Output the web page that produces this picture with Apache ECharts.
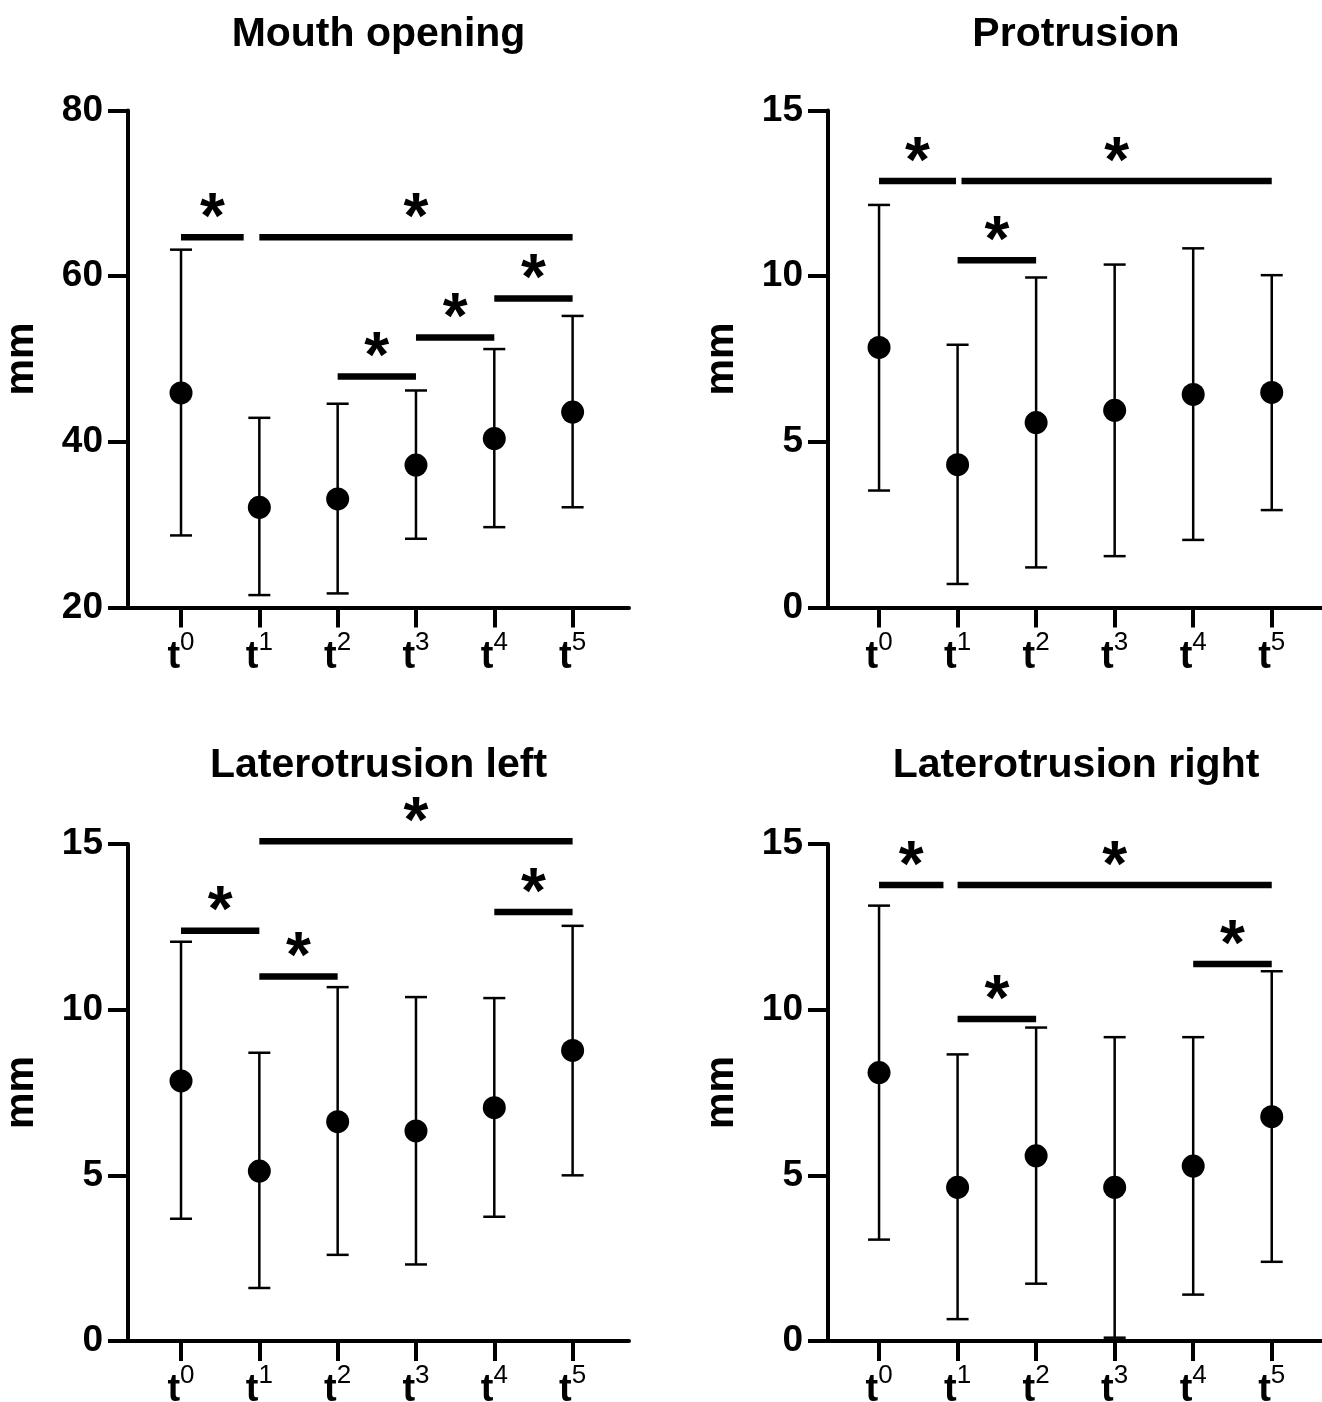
<!DOCTYPE html>
<html>
<head>
<meta charset="utf-8">
<script src="https://cdn.jsdelivr.net/npm/echarts@6/dist/echarts.min.js"></script>
<style>
html,body{margin:0;padding:0;background:#fff;}
#c{width:1322px;height:1402px;}
</style>
</head>
<body>
<div id="c"></div>
<script>
// ---------- DATA ----------
const timeSup = ['0', '1', '2', '3', '4', '5'];
const panelTitles = ['Mouth opening', 'Protrusion', 'Laterotrusion left', 'Laterotrusion right'];
const yUnit = 'mm';

// Mouth opening
const mouthMean  = [45.9, 32.1, 33.1, 37.2, 40.4, 43.6];
const mouthUpper = [63.2, 42.9, 44.6, 46.2, 51.2, 55.2];
const mouthLower = [28.7, 21.5, 21.7, 28.3, 29.7, 32.1];
const mouthSig   = [[0, 0.8, 64.7], [1, 5, 64.7], [2, 3, 47.9], [3, 4, 52.6], [4, 5, 57.3]];
const mouthTicks = [20, 80, 20]; // min, max, interval

// Protrusion
const protMean  = [7.85, 4.31, 5.58, 5.95, 6.43, 6.49];
const protUpper = [12.15, 7.93, 9.96, 10.35, 10.84, 10.03];
const protLower = [3.53, 0.71, 1.21, 1.55, 2.04, 2.94];
const protSig   = [[0, 0.98, 12.87], [1.05, 5, 12.87], [1, 2, 10.48]];
const protTicks = [0, 15, 5];

// Laterotrusion left
const llMean  = [7.85, 5.13, 6.62, 6.34, 7.04, 8.77];
const llUpper = [12.05, 8.7, 10.68, 10.38, 10.35, 12.53];
const llLower = [3.69, 1.6, 2.6, 2.31, 3.75, 5.0];
const llSig   = [[0, 1, 12.38], [1, 2, 11.0], [1, 5, 15.08], [4, 5, 12.95]];
const llTicks = [0, 15, 5];

// Laterotrusion right
const lrMean  = [8.1, 4.64, 5.59, 4.64, 5.28, 6.77];
const lrUpper = [13.14, 8.65, 9.46, 9.17, 9.17, 11.16];
const lrLower = [3.06, 0.66, 1.73, 0.1, 1.4, 2.39];
const lrSig   = [[0, 0.82, 13.76], [1, 5, 13.76], [1, 2, 9.72], [4, 5, 11.38]];
const lrTicks = [0, 15, 5];

// ---------- CHART ----------
const FONT = '"Liberation Sans", Arial, Helvetica, sans-serif';
const panels = [
  {mean: mouthMean, up: mouthUpper, lo: mouthLower, sig: mouthSig, ticks: mouthTicks,
   grid: {left: 128, top: 110.5, width: 501, height: 497}, xr: [-0.677, 5.72], cx: 378.5, ty: 14},
  {mean: protMean, up: protUpper, lo: protLower, sig: protSig, ticks: protTicks,
   grid: {left: 828, top: 110.5, width: 494, height: 497}, xr: [-0.65, 5.64], cx: 1076, ty: 14},
  {mean: llMean, up: llUpper, lo: llLower, sig: llSig, ticks: llTicks,
   grid: {left: 128, top: 844, width: 501, height: 497}, xr: [-0.677, 5.72], cx: 378.5, ty: 745},
  {mean: lrMean, up: lrUpper, lo: lrLower, sig: lrSig, ticks: lrTicks,
   grid: {left: 828, top: 844, width: 494, height: 497}, xr: [-0.65, 5.64], cx: 1076, ty: 745}
];
const idxs = [0, 1, 2, 3, 4, 5];

const option = {
  backgroundColor: '#fff',
  animation: false,
  title: panels.map((p, i) => ({
    text: panelTitles[i], left: p.cx, top: p.ty, textAlign: 'center', padding: 0,
    textStyle: {fontFamily: FONT, fontSize: 41, fontWeight: 'bold', color: '#000'}
  })),
  grid: panels.map(p => Object.assign({containLabel: false, outerBoundsMode: 'none'}, p.grid)),
  xAxis: panels.map((p, i) => ({
    type: 'value', gridIndex: i, min: p.xr[0], max: p.xr[1],
    splitLine: {show: false},
    axisLine: {show: true, onZero: false, lineStyle: {color: '#000', width: 4}},
    axisTick: {show: true, customValues: idxs, length: 20, lineStyle: {color: '#000', width: 4}},
    axisLabel: {
      show: true, customValues: idxs, margin: 22,
      formatter: v => '{b|t}{s|' + timeSup[Math.round(v)] + '}',
      rich: {
        b: {fontFamily: FONT, fontSize: 38, fontWeight: 'bold', color: '#000', lineHeight: 56, verticalAlign: 'middle'},
        s: {fontFamily: FONT, fontSize: 26, color: '#000', verticalAlign: 'top', lineHeight: 12}
      }
    }
  })),
  yAxis: panels.map((p, i) => ({
    type: 'value', gridIndex: i, min: p.ticks[0], max: p.ticks[1], interval: p.ticks[2],
    name: yUnit, nameLocation: 'middle', nameGap: 86, nameRotate: 90,
    nameTextStyle: {fontFamily: FONT, fontSize: 41, fontWeight: 'bold', color: '#000'},
    splitLine: {show: false},
    axisLine: {show: true, onZero: false, lineStyle: {color: '#000', width: 4}},
    axisTick: {show: true, length: 20, lineStyle: {color: '#000', width: 4}},
    axisLabel: {margin: 25, fontFamily: FONT, fontSize: 37, fontWeight: 'bold', color: '#000'}
  })),
  series: []
};

panels.forEach((p, i) => {
  // error bars
  option.series.push({
    type: 'custom', xAxisIndex: i, yAxisIndex: i, silent: true, clip: false, z: 2,
    data: p.lo.map((l, k) => [k, l, p.up[k]]),
    encode: {x: 0, y: [1, 2]},
    renderItem: (params, api) => {
      const x = api.value(0);
      const lo = api.coord([x, api.value(1)]);
      const hi = api.coord([x, api.value(2)]);
      const cw = 11, st = {stroke: '#000', lineWidth: 2.5};
      return {type: 'group', children: [
        {type: 'line', shape: {x1: lo[0], y1: lo[1], x2: hi[0], y2: hi[1]}, style: st},
        {type: 'line', shape: {x1: hi[0] - cw, y1: hi[1], x2: hi[0] + cw, y2: hi[1]}, style: st},
        {type: 'line', shape: {x1: lo[0] - cw, y1: lo[1], x2: lo[0] + cw, y2: lo[1]}, style: st}
      ]};
    }
  });
  // means
  option.series.push({
    type: 'scatter', xAxisIndex: i, yAxisIndex: i, silent: true, z: 3,
    symbol: 'circle', symbolSize: 23, itemStyle: {color: '#000', opacity: 1},
    data: p.mean.map((m, k) => [k, m])
  });
  // significance bars
  option.series.push({
    type: 'custom', xAxisIndex: i, yAxisIndex: i, silent: true, clip: false, z: 4,
    data: p.sig,
    encode: {x: [0, 1], y: 2},
    renderItem: (params, api) => {
      const a = api.coord([api.value(0), api.value(2)]);
      const b = api.coord([api.value(1), api.value(2)]);
      return {type: 'group', children: [
        {type: 'rect', shape: {x: a[0], y: a[1] - 3.25, width: b[0] - a[0], height: 6.5}, style: {fill: '#000'}},
        {type: 'text', style: {text: '*', x: (a[0] + b[0]) / 2, y: a[1] - 17,
          font: 'bold 64px ' + FONT, fill: '#000', align: 'center', verticalAlign: 'middle'}}
      ]};
    }
  });
});

const chart = echarts.init(document.getElementById('c'), null, {renderer: 'canvas'});
chart.setOption(option);
</script>
</body>
</html>
